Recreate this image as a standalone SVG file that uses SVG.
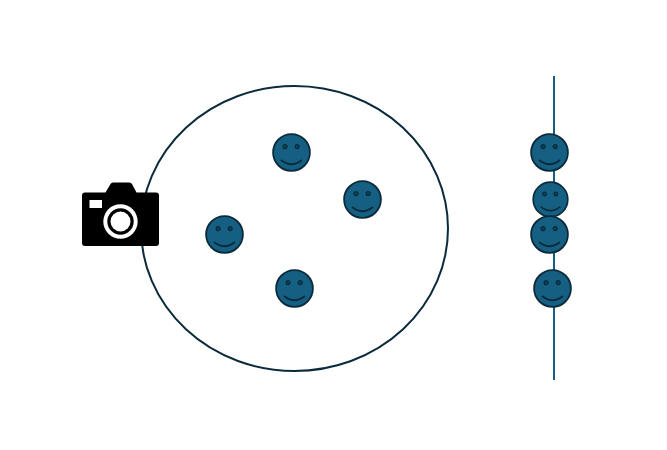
<svg xmlns="http://www.w3.org/2000/svg" xmlns:xlink="http://www.w3.org/1999/xlink" width="667" height="450" viewBox="0 0 667 450">
<style>
.outline{fill:none;stroke:#0b2b3c;stroke-width:2}
.axis{fill:none;stroke:#156082;stroke-width:2}
.face{fill:#156082;stroke:#0b2b3c;stroke-width:1.8}
.eye{fill:#0e4159;stroke:#0b2b3c;stroke-width:1.2}
.smile{fill:none;stroke:#0b2b3c;stroke-width:1.8}
</style>
<defs>
<g id="smiley">
<circle class="face" r="18.4"/>
<circle class="eye" cx="-6.4" cy="-5.8" r="2"/>
<circle class="eye" cx="5.7" cy="-5.8" r="2"/>
<path class="smile" d="M-10.500 7.500Q0 16 10.500 7.500"/>
</g>
</defs>
<rect width="667" height="450" fill="#fff"/>
<g id="connectors">
<ellipse class="outline" cx="294.5" cy="228.5" rx="153.5" ry="142.5"/>
<path class="axis" d="M554 76V380"/>
</g>
<g id="camera">
<path d="M85 192.500H105.500L110.500 184Q111.300 182.500 113 182.500H129.500Q131.200 182.500 132 184L136.500 192.500H156Q159 192.500 159 195.500V243Q159 246 156 246H85Q82 246 82 243V195.500Q82 192.500 85 192.500Z" fill="#000"/>
<rect x="89.500" y="200" width="12.500" height="8" fill="#fff"/>
<circle cx="120.500" cy="221.500" r="17.200" fill="#fff"/>
<circle cx="120.500" cy="221.500" r="13.200" fill="#000"/>
<circle cx="120.500" cy="221.500" r="10" fill="#fff"/>
</g>
<g id="face-1"><use href="#smiley" x="291.500" y="152.500"/></g>
<g id="face-2"><use href="#smiley" x="362.500" y="199.500"/></g>
<g id="face-3"><use href="#smiley" x="224.500" y="234.500"/></g>
<g id="face-4"><use href="#smiley" x="294.500" y="288.500"/></g>
<g id="face-5"><use href="#smiley" x="549.500" y="152.500"/></g>
<g id="face-6"><use href="#smiley" transform="translate(550.500 199.500) scale(.94)"/></g>
<g id="face-7"><use href="#smiley" x="549.500" y="234.500"/></g>
<g id="face-8"><use href="#smiley" x="552.500" y="288.500"/></g>
</svg>
